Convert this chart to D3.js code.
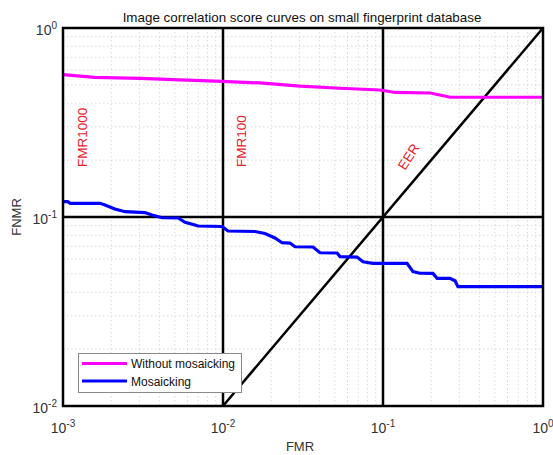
<!DOCTYPE html>
<html><head><meta charset="utf-8">
<script src="https://cdn.jsdelivr.net/npm/d3@7"></script>
<style>body{margin:0;background:#fff;} text{font-family:"Liberation Sans",Arial,sans-serif;}</style>
</head><body>
<svg id="c" width="553" height="455"></svg>
<script>
const xTicks = [1e-3, 1e-2, 1e-1, 1];
const xTickExp = ["-3", "-2", "-1", "0"];
const yTicks = [1e-2, 1e-1, 1];
const yTickExp = ["-2", "-1", "0"];

const withoutFMR = [0.001, 0.00128, 0.00158, 0.00303, 0.00539, 0.00987, 0.0170, 0.0303, 0.0539, 0.0957, 0.119, 0.197, 0.243, 0.262, 1];
const withoutFNMR = [0.566, 0.557, 0.548, 0.541, 0.531, 0.522, 0.512, 0.493, 0.480, 0.470, 0.456, 0.453, 0.437, 0.430, 0.430];

const mosFMR = [0.001, 0.00107, 0.00111, 0.00170, 0.00183, 0.00211, 0.00244, 0.00325, 0.00360, 0.00416, 0.00524, 0.00579, 0.00668, 0.00698, 0.00987, 0.01029, 0.01075, 0.01585, 0.0183, 0.0211, 0.0234, 0.0262, 0.0282, 0.0365, 0.0404, 0.0516, 0.0539, 0.0688, 0.0750, 0.0866, 0.1413, 0.154, 0.170, 0.205, 0.218, 0.262, 0.282, 0.294, 1];
const mosFNMR = [0.1205, 0.1205, 0.1181, 0.1181, 0.1157, 0.1102, 0.1067, 0.1056, 0.1025, 0.0991, 0.0988, 0.0938, 0.0907, 0.0896, 0.0891, 0.0867, 0.0843, 0.0838, 0.0818, 0.0775, 0.0731, 0.0728, 0.0696, 0.0694, 0.0647, 0.0645, 0.0617, 0.0614, 0.0580, 0.0569, 0.0568, 0.0514, 0.0504, 0.0503, 0.0474, 0.0474, 0.0460, 0.0428, 0.0428];

const eerLine = [0.01, 1];
const vLines = [0.01, 0.1];
const hLines = [0.1];
const seriesNames = ["Without mosaicking", "Mosaicking"];
const seriesColors = ["#ff00ff", "#0000ff"];
const markerLabels = [
  {text: "FMR1000", x: 0.00135, y: 0.184, rot: -90},
  {text: "FMR100", x: 0.0133, y: 0.184, rot: -90},
  {text: "EER", x: 0.1315, y: 0.1795, rot: -57}
];

const svg = d3.select("#c");
const L = 63, R = 543, T = 28, B = 406;
const x = d3.scaleLog().domain([1e-3, 1]).range([L, R]);
const y = d3.scaleLog().domain([1e-2, 1]).range([B, T]);

// grid
const g = svg.append("g");
const minor = [];
for (let e = -3; e < 0; e++) for (let m = 1; m <= 9; m++) minor.push(m * Math.pow(10, e));
minor.push(1);
g.selectAll(".gx").data(minor.filter(v => v > 1e-3 && v < 1)).enter().append("line")
  .attr("x1", d => x(d)).attr("x2", d => x(d)).attr("y1", T).attr("y2", B)
  .attr("stroke", "#d0d0d0").attr("stroke-width", 0.8).attr("stroke-dasharray", "1.5,2.5");
g.selectAll(".gy").data(minor.filter(v => v > 1e-2 && v < 1)).enter().append("line")
  .attr("y1", d => y(d)).attr("y2", d => y(d)).attr("x1", L).attr("x2", R)
  .attr("stroke", "#d0d0d0").attr("stroke-width", 0.8).attr("stroke-dasharray", "1.5,2.5");

// reference lines
svg.selectAll(".vl").data(vLines).enter().append("line")
  .attr("x1", d => x(d)).attr("x2", d => x(d)).attr("y1", T).attr("y2", B)
  .attr("stroke", "#000").attr("stroke-width", 2.5);
svg.selectAll(".hl").data(hLines).enter().append("line")
  .attr("y1", d => y(d)).attr("y2", d => y(d)).attr("x1", L).attr("x2", R)
  .attr("stroke", "#000").attr("stroke-width", 2.5);
svg.append("line").attr("x1", x(eerLine[0])).attr("y1", y(eerLine[0]))
  .attr("x2", x(eerLine[1])).attr("y2", y(eerLine[1]))
  .attr("stroke", "#000").attr("stroke-width", 2.5);

// curves
const line = d3.line().x(d => x(d[0])).y(d => y(d[1]));
const s1 = withoutFMR.map((v, i) => [v, withoutFNMR[i]]);
const s2 = mosFMR.map((v, i) => [v, mosFNMR[i]]);
svg.append("path").attr("d", line(s1)).attr("fill", "none").attr("stroke", seriesColors[0]).attr("stroke-width", 3.2);
svg.append("path").attr("d", line(s2)).attr("fill", "none").attr("stroke", seriesColors[1]).attr("stroke-width", 3.2);

// labels
markerLabels.forEach(m => {
  svg.append("text").attr("transform", `translate(${x(m.x)},${y(m.y)}) rotate(${m.rot})`)
    .attr("fill", "#e8202a").attr("font-size", 13.5).attr("text-anchor", "start")
    .attr("dominant-baseline", "middle").text(m.text);
});

// frame
svg.append("rect").attr("x", L).attr("y", T).attr("width", R - L).attr("height", B - T)
  .attr("fill", "none").attr("stroke", "#000").attr("stroke-width", 2.5);

// tick labels
const tickCol = "#333";
xTicks.forEach((t, i) => {
  const tx = svg.append("text").attr("x", x(t)).attr("y", 433).attr("text-anchor", "middle")
    .attr("font-size", 14).attr("fill", tickCol);
  tx.append("tspan").text("10");
  tx.append("tspan").attr("dy", -6).attr("font-size", 10).text(xTickExp[i]);
});
yTicks.forEach((t, i) => {
  const ty = svg.append("text").attr("x", 57).attr("y", y(t) + 7).attr("text-anchor", "end")
    .attr("font-size", 14).attr("fill", tickCol);
  ty.append("tspan").text("10");
  ty.append("tspan").attr("dy", -6).attr("font-size", 10).text(yTickExp[i]);
});

// axis titles
svg.append("text").attr("x", 300).attr("y", 451).attr("text-anchor", "middle").attr("font-size", 13).attr("fill", tickCol).text("FMR");
svg.append("text").attr("transform", "translate(21,217) rotate(-90)").attr("text-anchor", "middle").attr("font-size", 13).attr("fill", tickCol).text("FNMR");
svg.append("text").attr("x", 302).attr("y", 22).attr("text-anchor", "middle").attr("font-size", 13.4).attr("fill", "#111")
  .text("Image correlation score curves on small fingerprint database");

// legend
const lg = svg.append("g");
lg.append("rect").attr("x", 78.5).attr("y", 353.5).attr("width", 163).attr("height", 39)
  .attr("fill", "#fff").attr("stroke", "#888").attr("stroke-width", 1);
seriesNames.forEach((n, i) => {
  const yy = 363.5 + i * 17.5;
  lg.append("line").attr("x1", 82).attr("x2", 127).attr("y1", yy).attr("y2", yy)
    .attr("stroke", seriesColors[i]).attr("stroke-width", 3);
  lg.append("text").attr("x", 131).attr("y", yy + 4.5).attr("font-size", 12).attr("fill", "#111").text(n);
});
</script>
</body></html>
